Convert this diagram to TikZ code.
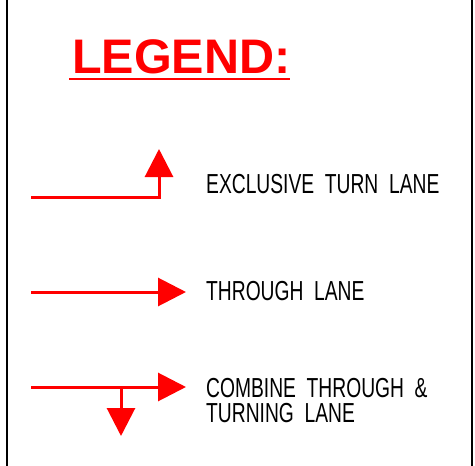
\documentclass[tikz,border=0pt]{standalone}
\usepackage{fontspec}
\usetikzlibrary{arrows.meta}
\newfontfamily\cadfont[FakeStretch=0.7]{Liberation Sans}
\newfontfamily\titlefont{Liberation Sans}
\definecolor{lanered}{RGB}{255,0,0}

\begin{document}
\begin{tikzpicture}[x=1pt,y=-1pt,
  lane/.style={lanered,line width=3pt},
  head/.style={-{Triangle[length=28pt,width=28pt]}},
  lbl/.style={anchor=base west,inner sep=0pt,font=\cadfont\fontsize{27.5}{25}\selectfont,align=left}]
\useasboundingbox (0,0) rectangle (475,466);
% frame sides
\draw[line width=2pt] (7,0) -- (7,466);
\draw[line width=2pt] (472,0) -- (472,466);
% title
\node[anchor=base west,inner sep=0pt,text=lanered,font=\titlefont\bfseries\fontsize{48.5}{50}\selectfont] (title) at (72,73) {LEGEND:};
\draw[lanered,line width=2pt] (69,79) -- (290,79);
% exclusive turn lane
\coordinate (t1) at (31,197);
\coordinate (t2) at (159,197);
\coordinate (t3) at (159,149);
\draw[lane,head] (t1) -- (t2) -- (t3);
\node[lbl] (turn) at (206,193) {EXCLUSIVE\ \ TURN\ \ LANE};
% through lane
\coordinate (h1) at (31,292);
\coordinate (h2) at (186,292);
\draw[lane,head] (h1) -- (h2);
\node[lbl] (thru) at (206,300) {THROUGH\ \ LANE};
% combined lane
\coordinate (c1) at (31,387);
\coordinate (c2) at (186,387);
\coordinate (c3) at (121,387);
\coordinate (c4) at (121,436);
\draw[lane,head] (c1) -- (c2);
\draw[lane,head] (c3) -- (c4);
\node[lbl] (comb) at (206,422) {COMBINE\ \ THROUGH\ \ \&\\TURNING\ \ LANE};
\end{tikzpicture}
\end{document}
